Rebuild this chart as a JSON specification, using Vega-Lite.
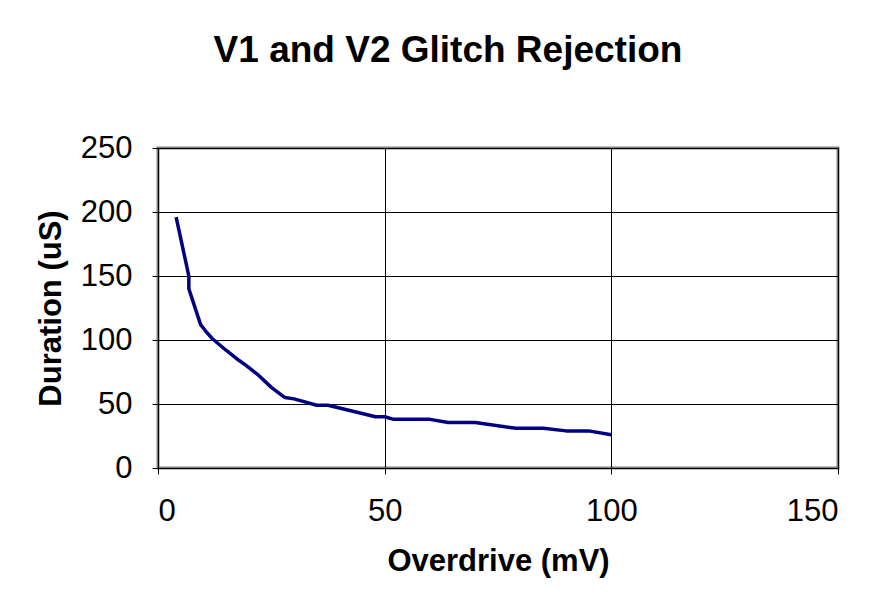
{
  "$schema": "https://vega.github.io/schema/vega-lite/v6.json",
  "autosize": "none",
  "width": 680,
  "height": 320,
  "padding": {"left": 158, "top": 148, "right": 41, "bottom": 137},
  "background": "white",
  "title": {
    "text": "V1 and V2 Glitch Rejection",
    "font": "Liberation Sans",
    "fontSize": 37,
    "fontWeight": "bold",
    "color": "black",
    "anchor": "middle",
    "dx": -50,
    "offset": 33,
    "baseline": "alphabetic"
  },
  "config": {
    "view": {"stroke": "#808080", "strokeWidth": 3},
    "axis": {
      "labelFont": "Liberation Sans",
      "titleFont": "Liberation Sans",
      "labelFontSize": 31,
      "titleFontSize": 31,
      "titleFontWeight": "bold",
      "labelColor": "black",
      "titleColor": "black",
      "gridColor": "black",
      "gridWidth": 1,
      "gridOpacity": 1,
      "domainColor": "black",
      "tickColor": "black",
      "tickSize": 6
    }
  },
  "data": {
    "values": [
      {"x": 4, "y": 196},
      {"x": 6.8, "y": 150},
      {"x": 6.8, "y": 140},
      {"x": 9.4, "y": 112},
      {"x": 10.5, "y": 107},
      {"x": 12, "y": 101},
      {"x": 15, "y": 92},
      {"x": 17.5, "y": 85},
      {"x": 19.5, "y": 80},
      {"x": 22, "y": 73},
      {"x": 25, "y": 63},
      {"x": 28, "y": 55},
      {"x": 30, "y": 54},
      {"x": 32, "y": 52},
      {"x": 35, "y": 49},
      {"x": 37.5, "y": 49},
      {"x": 48, "y": 40},
      {"x": 50, "y": 40},
      {"x": 52, "y": 38},
      {"x": 60, "y": 38},
      {"x": 64, "y": 35.5},
      {"x": 70, "y": 35.5},
      {"x": 79, "y": 31},
      {"x": 85, "y": 31},
      {"x": 90, "y": 29},
      {"x": 95, "y": 29},
      {"x": 100, "y": 26}
    ]
  },
  "mark": {"type": "line", "color": "#000080", "strokeWidth": 3.5, "strokeJoin": "round"},
  "encoding": {
    "x": {
      "field": "x",
      "type": "quantitative",
      "scale": {"domain": [0, 150], "nice": false, "zero": false},
      "axis": {
        "title": "Overdrive (mV)",
        "values": [0, 50, 100, 150],
        "grid": true,
        "labelPadding": 22,
        "titlePadding": 20
      }
    },
    "y": {
      "field": "y",
      "type": "quantitative",
      "scale": {"domain": [0, 250], "nice": false},
      "axis": {
        "title": "Duration (uS)",
        "values": [0, 50, 100, 150, 200, 250],
        "grid": true,
        "labelPadding": 20,
        "titlePadding": 13
      }
    }
  }
}
